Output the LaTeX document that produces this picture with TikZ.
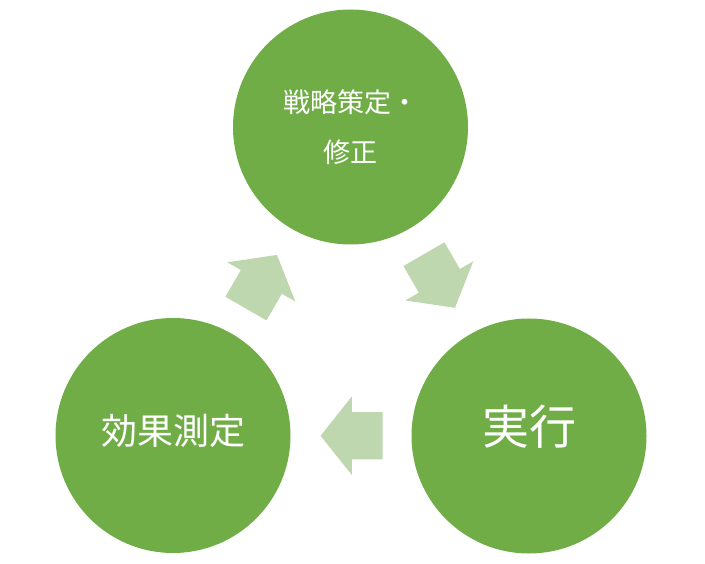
\documentclass[tikz,border=0pt]{standalone}
\usepackage{fontspec}
\newfontfamily\jpfont{Noto Sans CJK JP}
\usetikzlibrary{shapes.arrows,calc}
\definecolor{phasegreen}{HTML}{70AD47}
\definecolor{flowgreen}{HTML}{BFD7AF}
\tikzset{
	phase/.style={circle, fill=phasegreen, draw=none, minimum size=235pt, inner sep=0pt,
			text=white, align=center},
	flow/.style={single arrow, fill=flowgreen, draw=none, inner xsep=0pt, inner ysep=23.5pt,
			minimum height=62pt,
			single arrow head extend=15.5pt, single arrow tip angle=103},
	flow angle/.style={rotate=#1, xshift=-10pt}
}

\begin{document}
\begin{tikzpicture}[x=1pt,y=-1pt]
	\useasboundingbox (0,0) rectangle (705,564);

	% the three phases
	\node [phase, font=\jpfont\fontsize{27}{50}\selectfont] (strategy) at (350.5,127) {戦略策定・\\修正};
	\node [phase, font=\jpfont\fontsize{47}{50}\selectfont, text depth=23pt] (execution) at (529,436) {実行};
	\node [phase, font=\jpfont\fontsize{36}{40}\selectfont, text depth=12pt] (measure) at (173,435.5) {効果測定};

	% block arrows between them
	\node [flow, flow angle=-60] (flowA) at ($(strategy)!0.5!(execution)$) {};
	\node [flow, flow angle=180] (flowB) at ($(execution)!0.5!(measure)$) {};
	\node [flow, flow angle=60] (flowC) at ($(measure)!0.5!(strategy)$) {};
\end{tikzpicture}
\end{document}
